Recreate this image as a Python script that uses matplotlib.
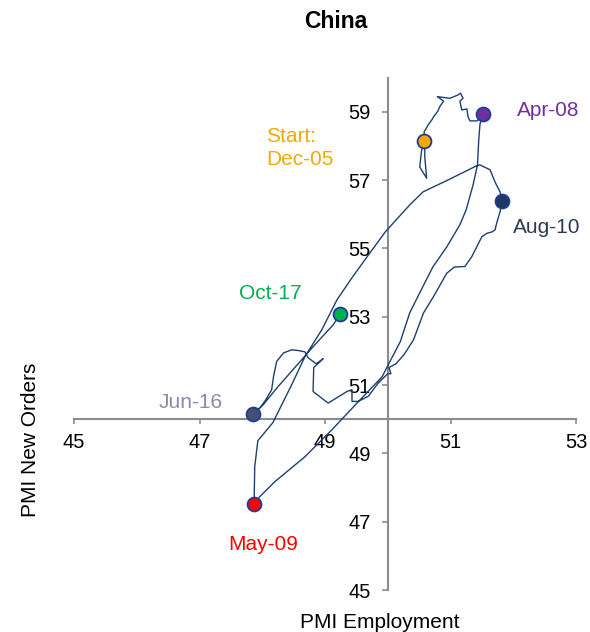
import matplotlib
matplotlib.use("Agg")
import matplotlib.pyplot as plt

plt.rcParams['font.family'] = ['Liberation Sans', 'DejaVu Sans']

# PMI Employment (x) and PMI New Orders (y), Dec-05 -> Oct-17 path
pmi_employment = [
    50.58, 50.54, 50.51, 50.62, 50.59, 50.59, 50.58, 50.65, 50.71, 50.73,
    50.80, 50.83, 50.89, 50.79, 50.99, 51.12, 51.16, 51.20, 51.15, 51.18,
    51.26, 51.28, 51.31, 51.42, 51.47, 51.52,
    51.47, 51.45, 51.43, 51.36, 51.25, 51.15, 50.94, 50.72, 50.51, 50.35,
    50.20, 50.05, 49.91, 49.53, 49.11, 48.68, 48.20, 47.96, 47.87,
    47.88, 47.93, 48.17, 48.31, 48.47, 48.68, 48.95, 49.19, 49.43, 49.67,
    49.96, 50.35, 50.56, 50.96, 51.41, 51.47, 51.63, 51.71, 51.79, 51.82,
    51.79, 51.74, 51.71, 51.66, 51.58, 51.50, 51.42, 51.34, 51.23, 51.06,
    50.94, 50.73, 50.57, 50.41, 50.26, 50.13, 50.02, 50.05, 50.00, 49.85,
    49.69, 49.53, 49.43, 49.43, 49.35, 49.05, 48.81, 48.82, 48.92, 48.97,
    48.86, 48.73, 48.68, 48.57, 48.47, 48.34, 48.23, 48.18, 48.15, 48.04,
    47.94, 47.85,
    48.00, 48.25, 48.60, 48.81, 49.13, 49.24,
]
pmi_new_orders = [
    58.14, 57.88, 57.38, 57.05, 57.68, 57.94, 58.41, 58.63, 58.78, 58.85,
    59.02, 59.15, 59.31, 59.44, 59.39, 59.49, 59.54, 59.39, 59.31, 59.05,
    59.08, 58.85, 58.73, 58.73, 58.81, 58.92,
    58.64, 58.17, 57.44, 56.86, 56.13, 55.69, 55.04, 54.46, 53.70, 53.11,
    52.27, 51.74, 51.24, 50.51, 49.69, 48.90, 48.17, 47.73, 47.53,
    48.61, 49.37, 49.90, 50.42, 51.01, 51.83, 52.62, 53.49, 54.14, 54.75,
    55.48, 56.27, 56.65, 57.00, 57.41, 57.44, 57.30, 56.94, 56.65, 56.40,
    56.07, 55.77, 55.54, 55.48, 55.44, 55.34, 55.05, 54.76, 54.47, 54.45,
    54.27, 53.59, 53.11, 52.32, 51.89, 51.62, 51.51, 51.33, 51.33, 51.06,
    50.67, 50.52, 50.52, 50.86, 50.81, 50.47, 50.81, 51.51, 51.68, 51.77,
    51.62, 51.80, 51.97, 52.01, 52.03, 51.94, 51.69, 51.25, 50.86, 50.52,
    50.28, 50.16,
    50.39, 50.95, 51.68, 52.12, 52.76, 53.08,
]

# highlighted months
key_labels = ["Start:\nDec-05", "Apr-08", "May-09", "Aug-10", "Jun-16", "Oct-17"]
key_emp = [50.58, 51.52, 47.87, 51.82, 47.85, 49.24]
key_no = [58.14, 58.92, 47.53, 56.40, 50.16, 53.08]
key_fill = ["#F2A900", "#7030A0", "#FF0000", "#1F3864", "#44506E", "#00B050"]
key_text = ["#F0AA00", "#7030A0", "#FF0000", "#2E3B55", "#8A8AAE", "#00B050"]
key_offset = [(-113.7, -5.0), (24.3, 3.1), (6.5, -29.5), (7.9, -19.7), (-45.1, 7.9), (-50.4, 14.6)]
key_ha = ["left", "left", "center", "left", "center", "center"]

x_ticks = [45, 47, 49, 51, 53]
y_ticks = [45, 47, 49, 51, 53, 55, 57, 59]

W, H = 590, 632
fig = plt.figure(figsize=(W / 100, H / 100), dpi=100)
ax = fig.add_axes([74 / W, 42 / H, 502 / W, 512.5 / H])

line_col = "#1F3F6E"
axis_col = "#8C8C8C"

ax.plot(pmi_employment, pmi_new_orders, color=line_col, lw=1.0, zorder=2)

for lab, xe, yn, fc, tc, off, ha in zip(key_labels, key_emp, key_no, key_fill,
                                         key_text, key_offset, key_ha):
    ax.plot([xe], [yn], marker="o", ms=10, mfc=fc, mec="#1F3C96", mew=1.3,
            ls="none", zorder=3, clip_on=False)
    ax.annotate(lab, xy=(xe, yn), xytext=off, textcoords="offset points",
                ha=ha, va="center", color=tc, fontsize=15, linespacing=1.25)

ax.set_xlim(45, 53)
ax.set_ylim(45, 60)
ax.set_xticks(x_ticks)
ax.set_yticks(y_ticks)

for s in ["top", "right"]:
    ax.spines[s].set_visible(False)
ax.spines["left"].set_position(("data", 50))
ax.spines["bottom"].set_position(("data", 50))
for s in ["left", "bottom"]:
    ax.spines[s].set_color(axis_col)
    ax.spines[s].set_linewidth(1.5)
    ax.spines[s].set_zorder(1)

ax.tick_params(axis="x", direction="out", length=3.6, width=1.2, color=axis_col,
               labelsize=14.5, pad=6)
ax.tick_params(axis="y", direction="out", length=4.3, width=1.2, color=axis_col,
               labelsize=14.5, pad=8)
ax.patch.set_visible(False)

fig.text(336 / W, 1 - 22 / H, "China", ha="center", va="center",
         fontsize=16.5, fontweight="bold")
fig.text(380 / W, 1 - 622 / H, "PMI Employment", ha="center", va="center",
         fontsize=15)
fig.text(30 / W, 1 - 440 / H, "PMI New Orders", ha="center", va="center",
         fontsize=15, rotation=90)

fig.savefig("out.png", dpi=100)
